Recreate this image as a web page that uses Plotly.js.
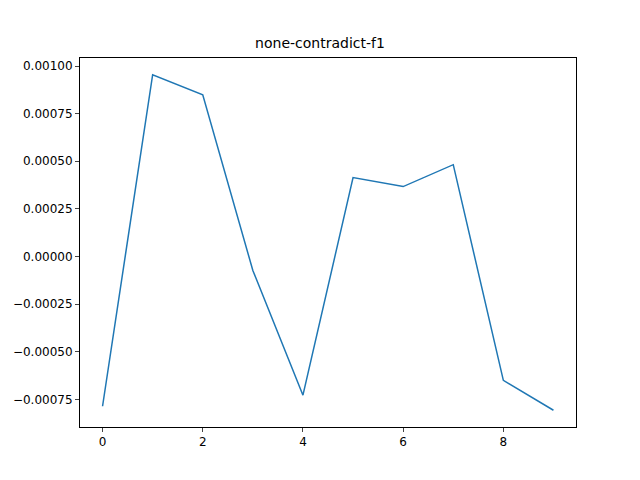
<!DOCTYPE html>
<html><head><script src="https://cdn.plot.ly/plotly-3.0.1.min.js"></script></head>
<body style="margin:0">
<div id="c" style="width:640px;height:480px"></div>
<script>
var xs=[0,1,2,3,4,5,6,7,8,9];
var ys=[-0.000786,0.000954,0.000849,-0.0000734,-0.000728,0.000414,0.000367,0.000482,-0.00065,-0.000807];
var yTicks=[-0.00075,-0.0005,-0.00025,0,0.00025,0.0005,0.00075,0.001];
Plotly.newPlot('c',[{x:xs,y:ys,mode:'lines',line:{color:'#1f77b4',width:1.5}}],{
width:640,height:480,margin:{l:80,r:64,t:58,b:53},
paper_bgcolor:'#fff',plot_bgcolor:'#fff',showlegend:false,
font:{family:'DejaVu Sans',size:12,color:'#000'},
title:{text:'none-contradict-f1',x:0.5,xanchor:'center',y:0.91,yanchor:'middle',font:{size:14}},
xaxis:{range:[-0.45,9.45],tickvals:[0,2,4,6,8],showgrid:false,zeroline:false,showline:true,mirror:true,linecolor:'#000',ticks:'outside',ticklen:4},
yaxis:{range:[-0.000895,0.001042],tickvals:yTicks,tickformat:'.5f',showgrid:false,zeroline:false,showline:true,mirror:true,linecolor:'#000',ticks:'outside',ticklen:4}
},{displayModeBar:false});
</script></body></html>
